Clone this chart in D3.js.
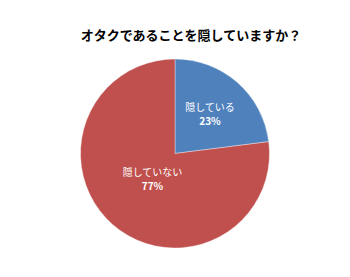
<!DOCTYPE html>
<html>
<head>
<meta charset="utf-8">
<script src="https://cdn.jsdelivr.net/npm/d3@7"></script>
<style>
  html, body { margin: 0; padding: 0; background: #fff; }
  svg { display: block; }
</style>
</head>
<body>
<svg id="chart" width="350" height="277"></svg>
<script>
// Survey answers: "Do you hide that you are an otaku?"
const title = "オタクであることを隠していますか？";
const categories = ["隠している", "隠していない"];
const values = [23, 77];
const colors = ["#4F81BD", "#C0504D"];

const width = 350, height = 277;
const cx = 175, cy = 153.5, radius = 94.5;
const labelRadius = [0.56, 0.36];

const svg = d3.select("#chart");

svg.append("text")
  .attr("x", 191)
  .attr("y", 40)
  .attr("text-anchor", "middle")
  .attr("font-family", "'Noto Sans CJK JP', sans-serif")
  .attr("font-weight", "bold")
  .attr("font-size", 13)
  .attr("fill", "#000")
  .text(title);

const pie = d3.pie().sort(null).value(d => d.value);
const data = categories.map((c, i) => ({ name: c, value: values[i], color: colors[i], i }));
const arcs = pie(data);

const arc = d3.arc().innerRadius(0).outerRadius(radius);

const g = svg.append("g").attr("transform", `translate(${cx},${cy})`);

g.selectAll("path")
  .data(arcs)
  .join("path")
  .attr("d", arc)
  .attr("fill", d => d.data.color)
  .attr("stroke", "#ffffff")
  .attr("stroke-opacity", 0.6)
  .attr("stroke-width", 0.6);

const total = d3.sum(values);

const labels = g.selectAll("g.lbl")
  .data(arcs)
  .join("g")
  .attr("class", "lbl")
  .attr("transform", d => {
    const r = radius * labelRadius[d.data.i];
    const a = (d.startAngle + d.endAngle) / 2;
    return `translate(${Math.sin(a) * r},${-Math.cos(a) * r})`;
  });

labels.append("text")
  .attr("y", -3)
  .attr("text-anchor", "middle")
  .attr("font-family", "'Noto Sans CJK JP', sans-serif")
  .attr("font-size", 10)
  .attr("fill", "#fff")
  .text(d => d.data.name);

labels.append("text")
  .attr("y", 11)
  .attr("text-anchor", "middle")
  .attr("font-family", "'Noto Sans CJK JP', sans-serif")
  .attr("font-weight", "bold")
  .attr("font-size", 10)
  .attr("fill", "#fff")
  .text(d => Math.round(d.data.value / total * 100) + "%");
</script>
</body>
</html>
